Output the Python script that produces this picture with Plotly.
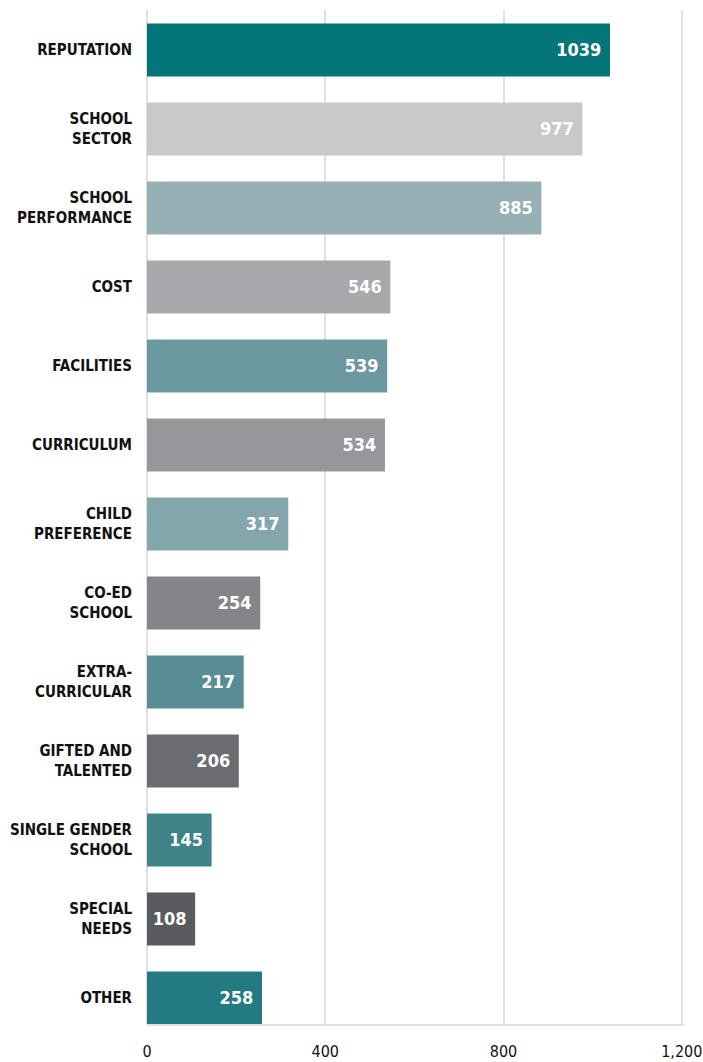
import plotly.graph_objects as go

categories = ["REPUTATION", "SCHOOL<br>SECTOR", "SCHOOL<br>PERFORMANCE", "COST", "FACILITIES",
              "CURRICULUM", "CHILD<br>PREFERENCE", "CO-ED<br>SCHOOL", "EXTRA-<br>CURRICULAR",
              "GIFTED AND<br>TALENTED", "SINGLE GENDER<br>SCHOOL", "SPECIAL<br>NEEDS", "OTHER"]
values = [1039, 977, 885, 546, 539, 534, 317, 254, 217, 206, 145, 108, 258]
colors = ["#04767A", "#C8C9CB", "#97B0B5", "#A8A9AD", "#6B999F", "#97979B", "#83A6AC",
          "#858589", "#588D95", "#6B6C70", "#3F8389", "#5A5B5E", "#237A80"]
x_ticks = [0, 400, 800, 1200]
x_tick_labels = ["0", "400", "800", "1,200"]

FONT = "DejaVu Sans Condensed, Liberation Sans Narrow, sans-serif"

fig = go.Figure(go.Bar(
    x=values, y=categories, orientation="h",
    marker=dict(color=colors, line=dict(width=0)),
    text=[f"{v} " for v in values], textposition="inside", insidetextanchor="end",
    textangle=0, constraintext="none",
    textfont=dict(family=FONT, size=18, color="white", weight="bold"),
    cliponaxis=False, hoverinfo="skip",
))

fig.update_layout(
    width=703, height=1062,
    margin=dict(l=147, r=19, t=10, b=38, autoexpand=False),
    paper_bgcolor="white", plot_bgcolor="white",
    bargap=0.33, showlegend=False,
    xaxis=dict(range=[0, 1205], tickvals=x_ticks, ticktext=x_tick_labels,
               showgrid=True, gridcolor="#E0E0E0", gridwidth=1.5,
               zeroline=True, zerolinecolor="#E0E0E0", zerolinewidth=1.5,
               showline=True, linecolor="#E0E0E0", linewidth=1.5,
               ticks="", ticklabelstandoff=12, ticklabeloverflow="allow",
               automargin=False,
               tickfont=dict(family=FONT, size=16, color="#111111")),
    yaxis=dict(type="category", categoryorder="array", categoryarray=categories,
               range=[12.33, -0.506], showgrid=False, zeroline=False, showline=False,
               ticks="", ticklabelstandoff=14, automargin=False,
               tickfont=dict(family=FONT, size=15, color="#111111", weight="bold")),
)

fig.write_html("out.html", config={"displayModeBar": False},
               post_script="document.body.style.margin='0';document.body.style.overflow='hidden';")
